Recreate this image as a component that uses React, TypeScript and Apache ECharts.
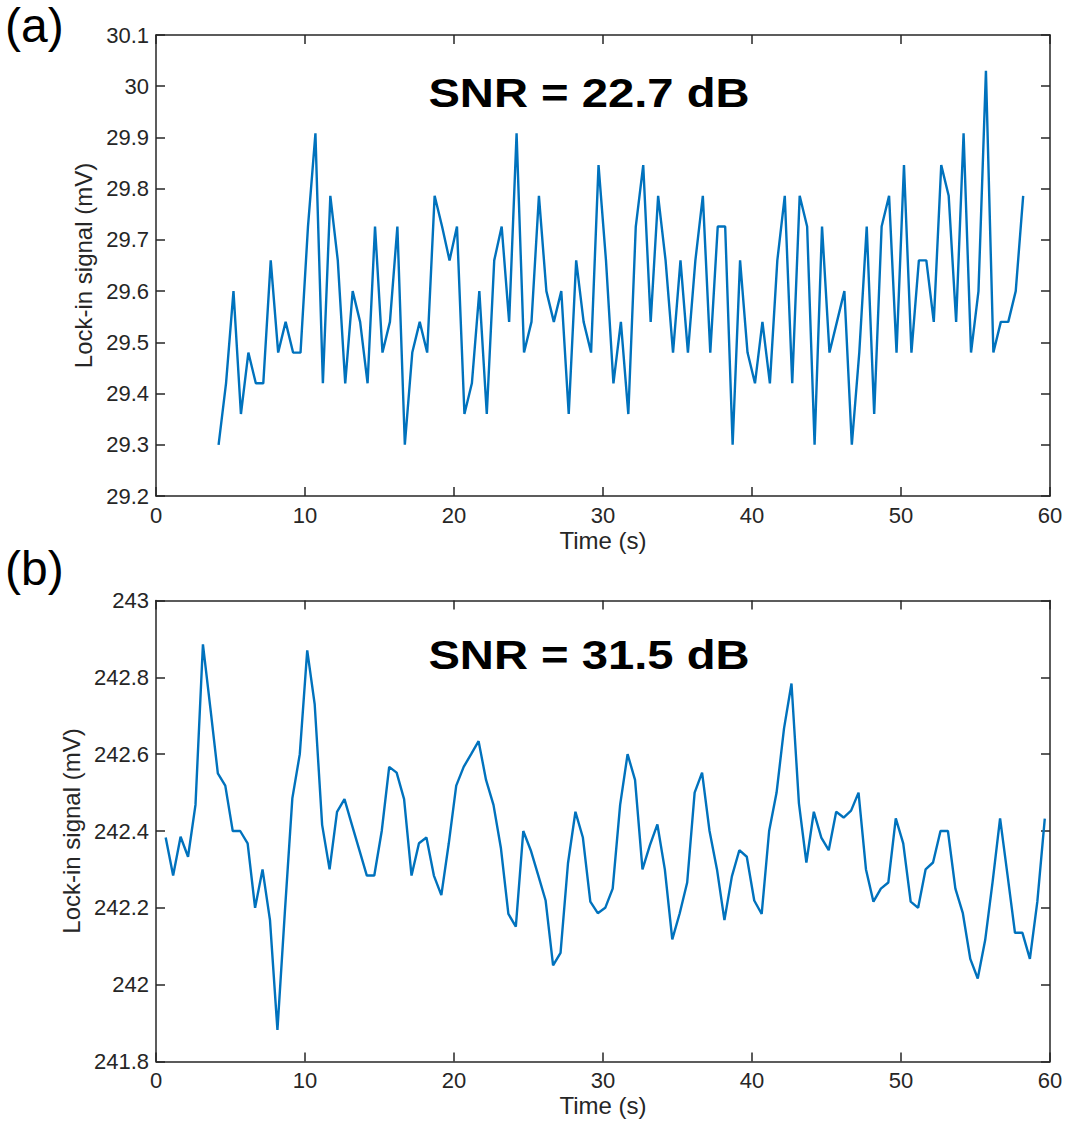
import React, { useEffect, useRef } from "react";
import * as echarts from "echarts";

const timeA = [4.2, 4.7, 5.2, 5.7, 6.2, 6.7, 7.2, 7.7, 8.2, 8.7, 9.2, 9.7, 10.2, 10.7, 11.2, 11.7, 12.2, 12.7, 13.2, 13.7, 14.2, 14.7, 15.2, 15.7, 16.2, 16.7, 17.2, 17.7, 18.2, 18.7, 19.2, 19.7, 20.2, 20.7, 21.2, 21.7, 22.2, 22.7, 23.2, 23.7, 24.2, 24.7, 25.2, 25.7, 26.2, 26.7, 27.2, 27.7, 28.2, 28.7, 29.2, 29.7, 30.2, 30.7, 31.2, 31.7, 32.2, 32.7, 33.2, 33.7, 34.2, 34.7, 35.2, 35.7, 36.2, 36.7, 37.2, 37.7, 38.2, 38.7, 39.2, 39.7, 40.2, 40.7, 41.2, 41.7, 42.2, 42.7, 43.2, 43.7, 44.2, 44.7, 45.2, 45.7, 46.2, 46.7, 47.2, 47.7, 48.2, 48.7, 49.2, 49.7, 50.2, 50.7, 51.2, 51.7, 52.2, 52.7, 53.2, 53.7, 54.2, 54.7, 55.2, 55.7, 56.2, 56.7, 57.2, 57.7, 58.2];

const signalA = [
  29.3, 29.42, 29.6, 29.36, 29.48, 29.42, 29.42, 29.66, 29.48, 29.54,
  29.48, 29.48, 29.726, 29.908, 29.42, 29.786, 29.66, 29.42, 29.6, 29.54,
  29.42, 29.726, 29.48, 29.54, 29.726, 29.3, 29.48, 29.54, 29.48, 29.786,
  29.726, 29.66, 29.726, 29.36, 29.42, 29.6, 29.36, 29.66, 29.726, 29.54,
  29.908, 29.48, 29.54, 29.786, 29.6, 29.54, 29.6, 29.36, 29.66, 29.54,
  29.48, 29.846, 29.66, 29.42, 29.54, 29.36, 29.726, 29.846, 29.54, 29.786,
  29.66, 29.48, 29.66, 29.48, 29.66, 29.786, 29.48, 29.726, 29.726, 29.3,
  29.66, 29.48, 29.42, 29.54, 29.42, 29.66, 29.786, 29.42, 29.786, 29.726,
  29.3, 29.726, 29.48, 29.54, 29.6, 29.3, 29.48, 29.726, 29.36, 29.726,
  29.786, 29.48, 29.846, 29.48, 29.66, 29.66, 29.54, 29.846, 29.786, 29.54,
  29.908, 29.48, 29.6, 30.03, 29.48, 29.54, 29.54, 29.6, 29.786,
];

const timeB = [0.65, 1.15, 1.65, 2.15, 2.65, 3.15, 3.65, 4.15, 4.65, 5.15, 5.65, 6.15, 6.65, 7.15, 7.65, 8.15, 8.65, 9.15, 9.65, 10.15, 10.65, 11.15, 11.65, 12.15, 12.65, 13.15, 13.65, 14.15, 14.65, 15.15, 15.65, 16.15, 16.65, 17.15, 17.65, 18.15, 18.65, 19.15, 19.65, 20.15, 20.65, 21.15, 21.65, 22.15, 22.65, 23.15, 23.65, 24.15, 24.65, 25.15, 25.65, 26.15, 26.65, 27.15, 27.65, 28.15, 28.65, 29.15, 29.65, 30.15, 30.65, 31.15, 31.65, 32.15, 32.65, 33.15, 33.65, 34.15, 34.65, 35.15, 35.65, 36.15, 36.65, 37.15, 37.65, 38.15, 38.65, 39.15, 39.65, 40.15, 40.65, 41.15, 41.65, 42.15, 42.65, 43.15, 43.65, 44.15, 44.65, 45.15, 45.65, 46.15, 46.65, 47.15, 47.65, 48.15, 48.65, 49.15, 49.65, 50.15, 50.65, 51.15, 51.65, 52.15, 52.65, 53.15, 53.65, 54.15, 54.65, 55.15, 55.65, 56.15, 56.65, 57.15, 57.65, 58.15, 58.65, 59.15, 59.65];

const signalB = [
  242.383, 242.284, 242.385, 242.333, 242.468, 242.886, 242.72, 242.55, 242.518, 242.4,
  242.4, 242.368, 242.2, 242.3, 242.168, 241.882, 242.19, 242.485, 242.6, 242.87,
  242.73, 242.416, 242.3, 242.45, 242.483, 242.416, 242.35, 242.284, 242.284, 242.4,
  242.567, 242.552, 242.483, 242.284, 242.368, 242.383, 242.284, 242.233, 242.368, 242.518,
  242.567, 242.6, 242.634, 242.533, 242.468, 242.355, 242.184, 242.151, 242.4, 242.35,
  242.285, 242.219, 242.05, 242.083, 242.316, 242.45, 242.383, 242.216, 242.186, 242.2,
  242.25, 242.468, 242.6, 242.533, 242.3, 242.363, 242.417, 242.3, 242.118, 242.186,
  242.266, 242.5, 242.552, 242.4, 242.3, 242.168, 242.282, 242.35, 242.333, 242.219,
  242.184, 242.4, 242.5, 242.667, 242.784, 242.472, 242.318, 242.45, 242.383, 242.35,
  242.45, 242.435, 242.453, 242.5, 242.3, 242.216, 242.25, 242.266, 242.433, 242.368,
  242.216, 242.2, 242.3, 242.318, 242.4, 242.4, 242.25, 242.186, 242.067, 242.016,
  242.116, 242.268, 242.433, 242.285, 242.135, 242.135, 242.067, 242.216, 242.432,
];

const panelLabels = ["(a)", "(b)"];
const snrLabels = ["SNR = 22.7 dB", "SNR = 31.5 dB"];
const xTitle = "Time (s)";
const yTitle = "Lock-in signal (mV)";

const FONT = "'Liberation Sans', Arial, Helvetica, sans-serif";
const AX = "#262626";
const LINE = "#0072BD";

function fmt(v: number) {
  return String(Math.round(v * 1000) / 1000);
}

export default function App() {
  const ref = useRef<HTMLDivElement>(null);
  useEffect(() => {
    if (!ref.current) return;
    const chart = echarts.init(ref.current, undefined, { renderer: "svg" });

    const axisLine = { show: true, onZero: false, lineStyle: { color: AX, width: 1.5 } };
    const tick = { show: true, inside: true, length: 9, lineStyle: { color: AX, width: 1.5 } };
    const lbl = { color: AX, fontSize: 22, fontFamily: FONT };

    const grids = [
      { left: 156, top: 35, width: 894, height: 461 },
      { left: 156, top: 600.5, width: 894, height: 461 },
    ];
    const yRanges = [
      { min: 29.2, max: 30.1, interval: 0.1, gap: 56 },
      { min: 241.8, max: 243, interval: 0.2, gap: 69 },
    ];

    const xAxis: any[] = [];
    const yAxis: any[] = [];
    grids.forEach((_, g) => {
      xAxis.push({
        type: "value", gridIndex: g, min: 0, max: 60, interval: 10, position: "bottom",
        axisLine, axisTick: tick, splitLine: { show: false },
        axisLabel: { ...lbl, margin: 8, formatter: fmt },
        name: xTitle, nameLocation: "middle", nameGap: 32,
        nameTextStyle: { color: AX, fontSize: 24, fontFamily: FONT },
      });
      xAxis.push({
        type: "value", gridIndex: g, min: 0, max: 60, interval: 10, position: "top",
        axisLine, axisTick: tick, splitLine: { show: false }, axisLabel: { show: false },
      });
      const r = yRanges[g];
      yAxis.push({
        type: "value", gridIndex: g, min: r.min, max: r.max, interval: r.interval, position: "left",
        axisLine, axisTick: tick, splitLine: { show: false },
        axisLabel: { ...lbl, margin: 7, formatter: fmt },
        name: yTitle, nameLocation: "middle", nameGap: r.gap, nameRotate: 90,
        nameTextStyle: { color: AX, fontSize: 24, fontFamily: FONT },
      });
      yAxis.push({
        type: "value", gridIndex: g, min: r.min, max: r.max, interval: r.interval, position: "right",
        axisLine, axisTick: tick, splitLine: { show: false }, axisLabel: { show: false },
      });
    });

    const option: any = {
      animation: false,
      backgroundColor: "#ffffff",
      grid: grids,
      xAxis,
      yAxis,
      series: [
        {
          type: "line", xAxisIndex: 0, yAxisIndex: 0, showSymbol: false,
          data: timeA.map((t, i) => [t, signalA[i]]),
          lineStyle: { color: LINE, width: 2.4 }, itemStyle: { color: LINE },
        },
        {
          type: "line", xAxisIndex: 2, yAxisIndex: 2, showSymbol: false,
          data: timeB.map((t, i) => [t, signalB[i]]),
          lineStyle: { color: LINE, width: 2.4 }, itemStyle: { color: LINE },
        },
      ],
      graphic: [
        { type: "text", x: 5, y: 25, style: { text: panelLabels[0], font: `48px ${FONT}`, fill: "#000", textAlign: "left", textVerticalAlign: "middle" } },
        { type: "text", x: 5, y: 568, style: { text: panelLabels[1], font: `48px ${FONT}`, fill: "#000", textAlign: "left", textVerticalAlign: "middle" } },
        { type: "text", x: 589, y: 93, scaleX: 1.18, style: { text: snrLabels[0], font: `bold 40px ${FONT}`, fill: "#000", textAlign: "center", textVerticalAlign: "middle" } },
        { type: "text", x: 589, y: 655, scaleX: 1.18, style: { text: snrLabels[1], font: `bold 40px ${FONT}`, fill: "#000", textAlign: "center", textVerticalAlign: "middle" } },
      ],
    };
    chart.setOption(option);
    return () => chart.dispose();
  }, []);
  return (
    <div
      ref={ref}
      style={{ position: "absolute", left: 0, top: 0, width: 1068, height: 1126, background: "#fff" }}
    />
  );
}
